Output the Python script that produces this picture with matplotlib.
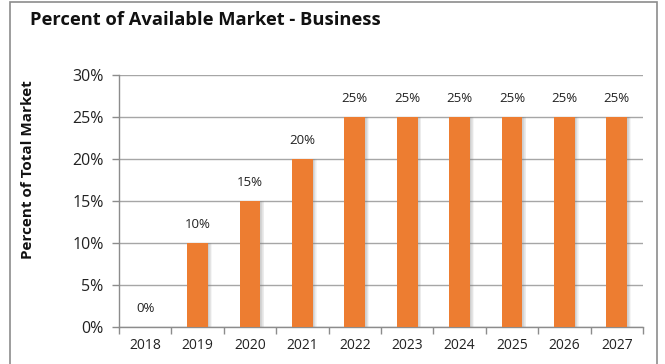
import matplotlib
matplotlib.use("Agg")
import matplotlib.pyplot as plt
import numpy as np
from matplotlib.patches import Rectangle
from matplotlib.ticker import FixedLocator, PercentFormatter

plt.rcParams['font.family'] = ['Open Sans', 'DejaVu Sans']

years = ["2018", "2019", "2020", "2021", "2022", "2023", "2024", "2025", "2026", "2027"]
share = [0, 10, 15, 20, 25, 25, 25, 25, 25, 25]
yticks = [0, 5, 10, 15, 20, 25, 30]

W, H = 665, 364
fig = plt.figure(figsize=(W / 100, H / 100), dpi=100)
fig.patch.set_facecolor("white")

# outer chart frame
fig.add_artist(Rectangle((10 / W, -0.01), (657 - 10) / W, 1.0 - 1.5 / H + 0.01,
                         transform=fig.transFigure, fill=False,
                         edgecolor="#8c8c8c", linewidth=1.2))

left, right, top, bottom = 119, 643, 75, 327
ax = fig.add_axes([left / W, 1 - bottom / H, (right - left) / W, (bottom - top) / H])

x = np.arange(len(years))
bw = 0.40
orange = "#ED7D31"

# soft drop shadow to the right of each bar
for k in range(6):
    off = 0.012 + k * 0.012
    ax.bar(x + off, share, width=bw, color="#7f7f7f", alpha=0.07, zorder=2, linewidth=0)
ax.bar(x, share, width=bw, color=orange, zorder=3, linewidth=0)

for xi, v in zip(x, share):
    ax.annotate(f"{v}%", (xi, v), xytext=(0, 9), textcoords="offset points",
                ha="center", va="bottom", fontsize=9.5, color="#222222")

ax.set_xlim(-0.5, len(years) - 0.5)
ax.set_ylim(0, 30)
ax.yaxis.set_major_locator(FixedLocator(yticks))
ax.yaxis.set_major_formatter(PercentFormatter(decimals=0))
ax.grid(axis="y", color="#a6a6a6", linewidth=1.0, zorder=0)
ax.set_axisbelow(True)

ax.set_xticks(x)
ax.set_xticklabels(years)
ax.set_xticks(np.arange(-0.5, len(years)), minor=True)
ax.tick_params(axis="x", which="major", length=0, pad=8, labelsize=10, colors="#222222")
ax.tick_params(axis="x", which="minor", length=5, color="#8c8c8c", width=1.0)
ax.tick_params(axis="y", length=5, color="#8c8c8c", width=1.0, pad=6, labelsize=11.5,
               labelcolor="#222222")

for s in ["top", "right"]:
    ax.spines[s].set_visible(False)
for s in ["left", "bottom"]:
    ax.spines[s].set_color("#8c8c8c")
    ax.spines[s].set_linewidth(1.0)

fig.text(30 / W, 1 - 20 / H, "Percent of Available Market - Business",
         fontsize=13.2, fontweight="bold", ha="left", va="center", color="#111111")
fig.text(28 / W, 1 - 170 / H, "Percent of Total Market", rotation=90,
         fontsize=11, fontweight="bold", ha="center", va="center", color="#111111")

fig.savefig("out.png", dpi=100, facecolor="white")
